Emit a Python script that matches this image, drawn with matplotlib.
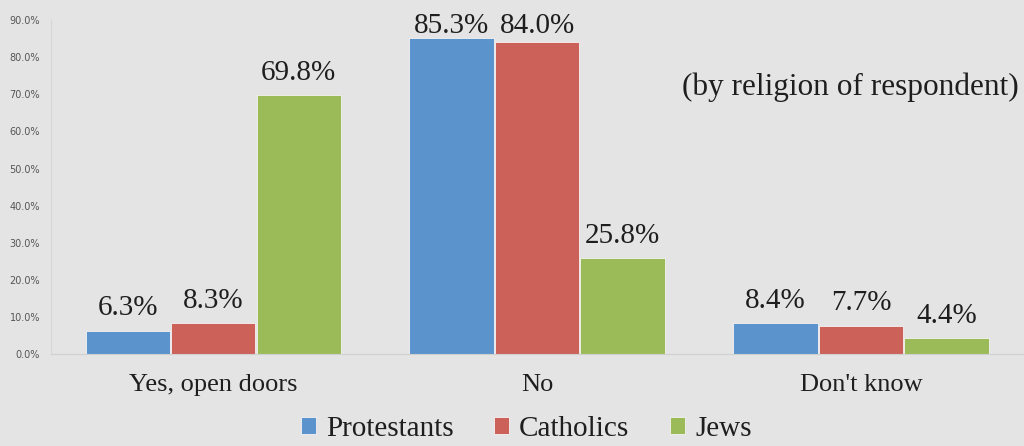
import numpy as np
import matplotlib
matplotlib.use("Agg")
import matplotlib.pyplot as plt
from matplotlib.ticker import PercentFormatter

# Survey answers, share of respondents per religion
answers = ["Yes, open doors", "No", "Don't know"]
protestants = [6.3, 85.3, 8.4]
catholics = [8.3, 84.0, 7.7]
jews = [69.8, 25.8, 4.4]

series = [("Protestants", protestants, "#5b93cc"),
          ("Catholics", catholics, "#cc6159"),
          ("Jews", jews, "#9bbb59")]

bg = "#e4e4e4"
ink = "#1e1e1e"
serif = ["Liberation Serif", "DejaVu Serif"]

fig = plt.figure(figsize=(10.24, 4.46), dpi=100, facecolor=bg)
ax = fig.add_axes([0.05, 0.206, 0.949, 0.749], facecolor=bg)

x = np.arange(len(answers))
width = 0.26
step = 0.264

for i, (name, vals, color) in enumerate(series):
    pos = x + (i - 1) * step
    bars = ax.bar(pos, vals, width, color=color, label=name,
                  edgecolor="#f4f4f4", linewidth=0.6)
    for b, v in zip(bars, vals):
        # labels near the top get pushed down so they stay inside the axes
        ax.text(b.get_x() + b.get_width() / 2, min(v + 2.5, 85.0),
                f"{v:.1f}%", ha="center", va="bottom", fontsize=21,
                family=serif, color=ink)

ax.set_xlim(-0.5, 2.5)
ax.set_ylim(0, 90)
ax.set_yticks(np.arange(0, 91, 10))
ax.yaxis.set_major_formatter(PercentFormatter(decimals=1))
ax.tick_params(axis="y", labelsize=7, colors="#555555", length=0, pad=8)
ax.set_xticks(x)
ax.set_xticklabels(answers, fontsize=19, family=serif, color=ink)
ax.tick_params(axis="x", length=0, pad=14)

for side in ["top", "right"]:
    ax.spines[side].set_visible(False)
ax.spines["left"].set_color("#d6d6d6")
ax.spines["bottom"].set_color("#d0d0d0")

ax.text(0.996, 0.80, "(by religion of respondent)", transform=ax.transAxes,
        ha="right", va="center", fontsize=22.5, family=serif, color=ink)

leg = fig.legend(loc="lower center", bbox_to_anchor=(0.514, -0.05), ncol=3,
                 frameon=False, prop={"family": serif, "size": 21},
                 handlelength=0.5, handleheight=0.5, handletextpad=0.35,
                 columnspacing=1.4)
for t in leg.get_texts():
    t.set_color(ink)

fig.savefig("out.png", dpi=100, facecolor=bg)
